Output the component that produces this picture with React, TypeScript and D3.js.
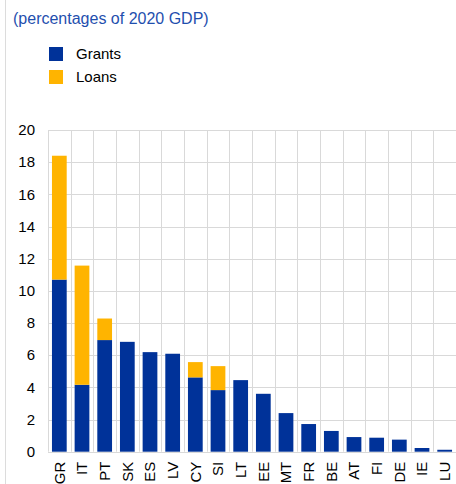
import React from 'react';
import * as d3 from 'd3';

const countries = ['GR', 'IT', 'PT', 'SK', 'ES', 'LV', 'CY', 'SI', 'LT', 'EE', 'MT', 'FR', 'BE', 'AT', 'FI', 'DE', 'IE', 'LU'];
const grants = [10.7, 4.16, 6.94, 6.83, 6.19, 6.09, 4.62, 3.83, 4.45, 3.6, 2.4, 1.72, 1.29, 0.91, 0.87, 0.75, 0.23, 0.12];
const loans = [7.7, 7.41, 1.34, 0, 0, 0, 0.95, 1.49, 0, 0, 0, 0, 0, 0, 0, 0, 0, 0];
const yTicks = [0, 2, 4, 6, 8, 10, 12, 14, 16, 18, 20];

const BLUE = '#003299';
const YELLOW = '#ffb400';
const GRID = '#d9d9d9';
const FONT = '"Liberation Sans", Arial, sans-serif';

const width = 456;
const height = 484;
const margin = { top: 130, right: 0, bottom: 32, left: 48 };

const App: React.FC = () => {
  const x = d3.scaleBand<string>()
    .domain(countries)
    .range([margin.left, width - margin.right])
    .paddingInner(0.35)
    .paddingOuter(0.175);

  const grid = d3.scaleBand<string>()
    .domain(countries)
    .range([margin.left, width - margin.right]);

  const y = d3.scaleLinear()
    .domain([0, 20])
    .range([height - margin.bottom - 0.3, margin.top]);

  const stacked = d3.stack<number>()
    .keys(['grants', 'loans'])
    .value((i, key) => (key === 'grants' ? grants[i] : loans[i]))(d3.range(countries.length));

  const colours = [BLUE, YELLOW];

  return (
    <svg width={width} height={height} style={{ position: 'absolute', left: 0, top: 0, display: 'block' }}
      fontFamily={FONT}>
      <rect width={width} height={height} fill="#fff" />
      <line x1={5.5} x2={5.5} y1={0} y2={height} stroke="#dcdcdc" strokeWidth={1} />

      <text x={13} y={24} fontSize={16} fill="#1f4fae">(percentages of 2020 GDP)</text>

      {/* Legend */}
      <rect x={49} y={47} width={14} height={14} fill={BLUE} />
      <text x={76} y={59} fontSize={15} fill="#000">Grants</text>
      <rect x={49} y={70} width={14} height={14} fill={YELLOW} />
      <text x={76} y={82} fontSize={15} fill="#000">Loans</text>

      {/* Grid */}
      {yTicks.map(t => (
        <line key={'h' + t} x1={margin.left} x2={width} y1={Math.round(y(t)) + 0.5} y2={Math.round(y(t)) + 0.5}
          stroke={GRID} strokeWidth={1} />
      ))}
      {countries.map(c => (
        <line key={'v' + c} x1={Math.round(grid(c)!) + 0.5} x2={Math.round(grid(c)!) + 0.5}
          y1={y(20)} y2={y(0)} stroke={GRID} strokeWidth={1} />
      ))}

      {/* Bars */}
      {stacked.map((layer, li) => (
        <g key={layer.key} fill={colours[li]}>
          {layer.map((d, i) => (d[1] - d[0] > 0 ? (
            <rect key={countries[i]} x={x(countries[i])} width={x.bandwidth()}
              y={y(d[1])} height={y(d[0]) - y(d[1])} />
          ) : null))}
        </g>
      ))}

      {/* Y axis labels */}
      {yTicks.map(t => (
        <text key={'y' + t} x={35} y={y(t)} dy="0.35em" textAnchor="end" fontSize={15} fill="#000">{t}</text>
      ))}

      {/* X axis labels */}
      {countries.map(c => {
        const cx = x(c)! + x.bandwidth() / 2;
        const ty = y(0) + 10;
        return (
          <text key={'x' + c} transform={`translate(${cx},${ty}) rotate(-90)`} textAnchor="end" dy="0.35em"
            fontSize={15} fill="#000">{c}</text>
        );
      })}
    </svg>
  );
};

export default App;
